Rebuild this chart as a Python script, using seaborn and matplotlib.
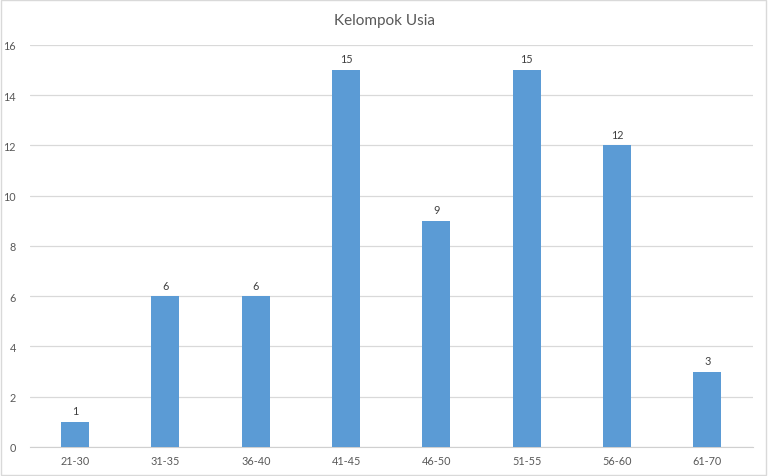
import matplotlib
matplotlib.use("Agg")
import matplotlib.pyplot as plt
import seaborn as sns
import pandas as pd

kelompok = ["21-30", "31-35", "36-40", "41-45", "46-50", "51-55", "56-60", "61-70"]
jumlah = [1, 6, 6, 15, 9, 15, 12, 3]

df = pd.DataFrame({"kelompok": kelompok, "jumlah": jumlah})

sns.set_style("white")
plt.rcParams["font.family"] = ["Lato", "DejaVu Sans"]

fig = plt.figure(figsize=(7.68, 4.77), dpi=100)
ax = fig.add_axes([0.039, 0.061, 0.941, 0.843])
sns.barplot(data=df, x="kelompok", y="jumlah", color="#5B9BD5", width=0.31,
            saturation=1, linewidth=0, ax=ax, zorder=3)

ax.set_ylim(0, 16)
ax.set_yticks(range(0, 17, 2))
ax.set_xlim(-0.5, len(kelompok) - 0.5)
ax.grid(axis="y", color="#D9D9D9", linewidth=0.9, zorder=0)
for s in ["top", "right", "left"]:
    ax.spines[s].set_visible(False)
ax.spines["bottom"].set_color("#D0D0D0")
ax.tick_params(axis="both", length=0, labelsize=7.8, colors="#595959")
ax.tick_params(axis="x", pad=6)
ax.tick_params(axis="y", pad=10)
ax.set_xlabel("")
ax.set_ylabel("")

for c in ax.containers:
    ax.bar_label(c, fmt="%d", padding=4, fontsize=7.8, color="#404040")

fig.text(0.5, 0.955, "Kelompok Usia", ha="center", va="center",
         fontsize=11, color="#595959")

border = plt.Rectangle((0.001, 0.002), 0.997, 0.995, transform=fig.transFigure,
                       fill=False, edgecolor="#D9D9D9", linewidth=1)
fig.patches.append(border)

fig.savefig("out.png", dpi=100)
